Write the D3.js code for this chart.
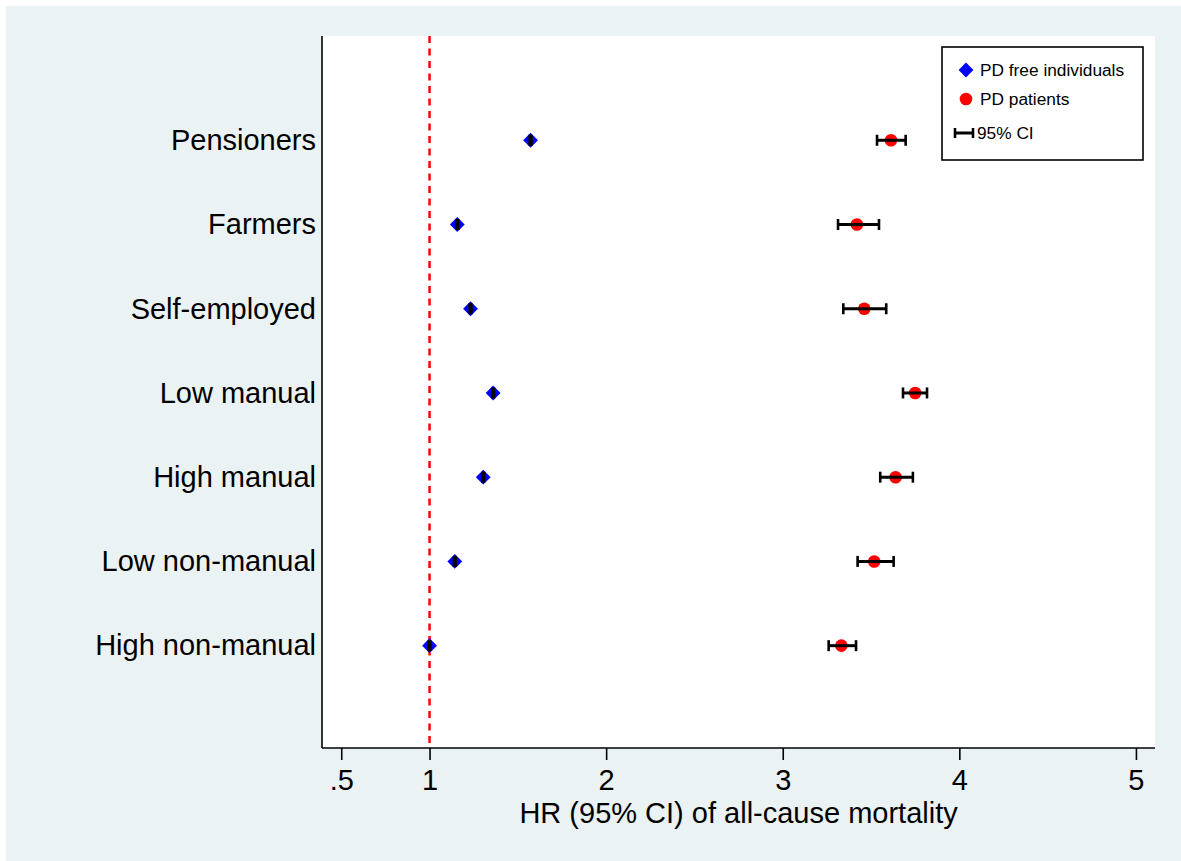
<!DOCTYPE html>
<html>
<head>
<meta charset="utf-8">
<script src="https://cdn.jsdelivr.net/npm/d3@7/dist/d3.min.js"></script>
<style>
  html, body { margin: 0; padding: 0; background: #ffffff; }
  svg { display: block; }
  text { font-family: "Liberation Sans", Arial, sans-serif; fill: #000; }
</style>
</head>
<body>
<svg id="chart" width="1181" height="861"></svg>
<script>
// ---- data ----
const categories = ["High non-manual", "Low non-manual", "High manual", "Low manual", "Self-employed", "Farmers", "Pensioners"];
const categoryPos = [1, 2, 3, 4, 5, 6, 7];

const pdFreeHR = [1.000, 1.143, 1.304, 1.360, 1.232, 1.157, 1.572];
const pdFreeLo = [0.996, 1.138, 1.299, 1.355, 1.227, 1.152, 1.567];
const pdFreeHi = [1.004, 1.148, 1.309, 1.365, 1.237, 1.162, 1.577];

const pdPatHR = [3.332, 3.518, 3.639, 3.750, 3.462, 3.420, 3.613];
const pdPatLo = [3.260, 3.424, 3.552, 3.681, 3.343, 3.313, 3.534];
const pdPatHi = [3.415, 3.628, 3.737, 3.817, 3.586, 3.545, 3.696];

const xTicks = [0.5, 1, 2, 3, 4, 5];
const xTickLabels = [".5", "1", "2", "3", "4", "5"];
const refLine = 1;
const xTitle = "HR (95% CI) of all-cause mortality";
const legendLabels = ["PD free individuals", "PD patients", "95% CI"];

// ---- layout ----
const svg = d3.select("#chart");
const W = 1181, H = 861;
const plot = { left: 322, right: 1155, top: 36, bottom: 748 };
const FS = 29;

svg.append("rect").attr("x", 6).attr("y", 6).attr("width", W - 6).attr("height", H - 6).attr("fill", "#eaf2f3");
svg.append("rect").attr("x", plot.left).attr("y", plot.top)
  .attr("width", plot.right - plot.left).attr("height", plot.bottom - plot.top).attr("fill", "#ffffff");

const x = d3.scaleLinear().domain([0.391, 5.108]).range([plot.left, plot.right]);
const y = d3.scaleLinear().domain([-0.215, 8.238]).range([plot.bottom, plot.top]);

// reference line
svg.append("line")
  .attr("x1", x(refLine)).attr("x2", x(refLine))
  .attr("y1", plot.top).attr("y2", plot.bottom)
  .attr("stroke", "#ff0000").attr("stroke-width", 2.5)
  .attr("stroke-dasharray", "7,5.5");

// x axis
const xAxis = d3.axisBottom(x).tickValues(xTicks)
  .tickFormat((d, i) => xTickLabels[i]).tickSize(12).tickSizeOuter(0).tickPadding(9);
const gx = svg.append("g").attr("transform", `translate(0,${plot.bottom})`).call(xAxis);
gx.select(".domain").attr("stroke", "#000").attr("stroke-width", 1.6).attr("d", `M${plot.left},0H${plot.right}`);
gx.selectAll(".tick line").attr("stroke", "#000").attr("stroke-width", 1.6);
gx.selectAll(".tick text").attr("font-size", FS).attr("font-family", "Liberation Sans, Arial, sans-serif").attr("fill", "#000");

// y axis
const yAxis = d3.axisLeft(y).tickValues(categoryPos)
  .tickFormat((d, i) => categories[i]).tickSize(0).tickSizeOuter(0).tickPadding(6);
const gy = svg.append("g").attr("transform", `translate(${plot.left},0)`).call(yAxis);
gy.select(".domain").attr("stroke", "#000").attr("stroke-width", 1.6).attr("d", `M0,${plot.top}V${plot.bottom}`);
gy.selectAll(".tick text").attr("font-size", FS).attr("font-family", "Liberation Sans, Arial, sans-serif").attr("fill", "#000");

// axis title
svg.append("text").attr("x", (x(0.5) + x(5)) / 2 + 0).attr("y", 823)
  .attr("text-anchor", "middle").attr("font-size", FS).text(xTitle);

// markers
const diamond = d3.symbol().type(d3.symbolDiamond2).size(140);
const gFree = svg.append("g");
gFree.selectAll("path").data(categoryPos).join("path")
  .attr("d", diamond)
  .attr("transform", (d, i) => `translate(${x(pdFreeHR[i])},${y(d)})`)
  .attr("fill", "#0000ff");

const gPat = svg.append("g");
gPat.selectAll("circle").data(categoryPos).join("circle")
  .attr("cx", (d, i) => x(pdPatHR[i])).attr("cy", d => y(d)).attr("r", 6.3)
  .attr("fill", "#ff0000");

// CIs
function drawCI(g, lo, hi) {
  const capH = 5.5;
  g.selectAll("g.ci").data(categoryPos).join("g").attr("class", "ci").each(function (d, i) {
    const s = d3.select(this);
    const yy = y(d);
    s.append("line").attr("x1", x(lo[i])).attr("x2", x(hi[i])).attr("y1", yy).attr("y2", yy)
      .attr("stroke", "#000").attr("stroke-width", 3);
    [lo[i], hi[i]].forEach(v => {
      s.append("line").attr("x1", x(v)).attr("x2", x(v)).attr("y1", yy - capH).attr("y2", yy + capH)
        .attr("stroke", "#000").attr("stroke-width", 2.6);
    });
  });
}
drawCI(svg.append("g"), pdFreeLo, pdFreeHi);
drawCI(svg.append("g"), pdPatLo, pdPatHi);

// legend
const lg = svg.append("g");
lg.append("rect").attr("x", 942).attr("y", 47).attr("width", 201).attr("height", 113)
  .attr("fill", "#ffffff").attr("stroke", "#000").attr("stroke-width", 1.6);
lg.append("path").attr("d", diamond).attr("transform", "translate(966,70)").attr("fill", "#0000ff");
lg.append("circle").attr("cx", 966).attr("cy", 99).attr("r", 6.3).attr("fill", "#ff0000");
lg.append("line").attr("x1", 955).attr("x2", 973).attr("y1", 133).attr("y2", 133).attr("stroke", "#000").attr("stroke-width", 3);
[955, 973].forEach(v => lg.append("line").attr("x1", v).attr("x2", v).attr("y1", 128).attr("y2", 138).attr("stroke", "#000").attr("stroke-width", 2.6));
const ly = [70, 99, 133];
const lx = [980, 980, 977];
legendLabels.forEach((t, i) => {
  lg.append("text").attr("x", lx[i]).attr("y", ly[i]).attr("dy", "0.35em").attr("font-size", 17.3).text(t);
});
</script>
</body>
</html>
